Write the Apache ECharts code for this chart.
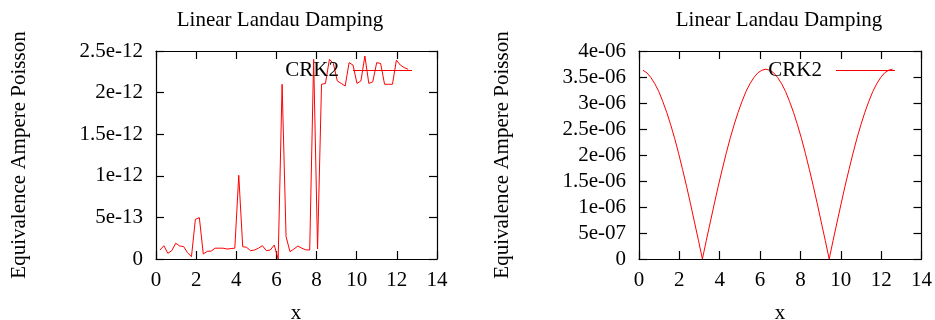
<!DOCTYPE html>
<html>
<head>
<meta charset="utf-8">
<script src="https://cdn.jsdelivr.net/npm/echarts@6/dist/echarts.min.js"></script>
<style>
  html, body { margin: 0; padding: 0; background: #fff; }
  #chart { width: 935px; height: 320px; }
</style>
</head>
<body>
<div id="chart"></div>
<script>
// Sample positions along x (one step of pi/16)
const xValues = [
  0.196, 0.393, 0.589, 0.785, 0.982, 1.178, 1.374, 1.571, 1.767, 1.963,
  2.160, 2.356, 2.553, 2.749, 2.945, 3.142, 3.338, 3.534, 3.731, 3.927,
  4.123, 4.320, 4.516, 4.712, 4.909, 5.105, 5.301, 5.498, 5.694, 5.890,
  6.087, 6.283, 6.480, 6.676, 6.872, 7.069, 7.265, 7.461, 7.658, 7.854,
  8.050, 8.247, 8.443, 8.639, 8.836, 9.032, 9.228, 9.425, 9.621, 9.817,
  10.014, 10.210, 10.407, 10.603, 10.799, 10.996, 11.192, 11.388, 11.585, 11.781,
  11.977, 12.174, 12.370, 12.566
];

// Left panel: CRK2 equivalence error (round-off level)
const crk2Left = [
  1.08e-13, 1.6e-13, 0.68e-13, 1.0e-13, 1.9e-13, 1.56e-13, 1.5e-13, 0.76e-13, 0.28e-13, 4.77e-13,
  4.97e-13, 0.6e-13, 0.92e-13, 0.95e-13, 1.3e-13, 1.3e-13, 1.3e-13, 1.2e-13, 1.25e-13, 1.3e-13,
  1.006e-12, 1.48e-13, 1.4e-13, 1.0e-13, 1.08e-13, 1.3e-13, 1.6e-13, 1.0e-13, 1.08e-13, 1.68e-13,
  0, 2.1e-12, 2.68e-13, 0.88e-13, 1.2e-13, 1.56e-13, 1.3e-13, 1.1e-13, 1.08e-13, 2.4e-12,
  1.2e-13, 2.1e-12, 2.11e-12, 2.4e-12, 2.35e-12, 2.14e-12, 2.11e-12, 2.08e-12, 2.36e-12, 2.33e-12,
  2.11e-12, 2.14e-12, 2.44e-12, 2.11e-12, 2.13e-12, 2.36e-12, 2.35e-12, 2.1e-12, 2.1e-12, 2.1e-12,
  2.39e-12, 2.33e-12, 2.3e-12, 2.28e-12
];

// Right panel: CRK2 equivalence error
const crk2Right = [
  3.63e-6, 3.58e-6, 3.49e-6, 3.37e-6, 3.22e-6, 3.03e-6, 2.82e-6, 2.58e-6, 2.32e-6, 2.03e-6,
  1.72e-6, 1.40e-6, 1.06e-6, 0.71e-6, 0.36e-6, 0,
  0.36e-6, 0.71e-6, 1.06e-6, 1.40e-6, 1.72e-6, 2.03e-6, 2.32e-6, 2.58e-6, 2.82e-6, 3.03e-6,
  3.22e-6, 3.37e-6, 3.49e-6, 3.58e-6, 3.63e-6, 3.65e-6,
  3.63e-6, 3.58e-6, 3.49e-6, 3.37e-6, 3.22e-6, 3.03e-6, 2.82e-6, 2.58e-6, 2.32e-6, 2.03e-6,
  1.72e-6, 1.40e-6, 1.06e-6, 0.71e-6, 0.36e-6, 0,
  0.36e-6, 0.71e-6, 1.06e-6, 1.40e-6, 1.72e-6, 2.03e-6, 2.32e-6, 2.58e-6, 2.82e-6, 3.03e-6,
  3.22e-6, 3.37e-6, 3.49e-6, 3.58e-6, 3.63e-6, 3.65e-6
];

const xTickLabels = ['0', '2', '4', '6', '8', '10', '12', '14'];
const leftTickLabels = ['0', '5e-13', '1e-12', '1.5e-12', '2e-12', '2.5e-12'];
const rightTickLabels = ['0', '5e-07', '1e-06', '1.5e-06', '2e-06', '2.5e-06', '3e-06', '3.5e-06', '4e-06'];

const seriesName = 'CRK2';
const titleText = 'Linear Landau Damping';
const yName = 'Equivalence Ampere Poisson';
const xName = 'x';

const FONT = 'Liberation Serif';
const FS = 21;
const INK = '#000';
const RED = '#ff0000';

function pairs(ys) { return xValues.map((x, i) => [x, ys[i]]); }

function xAxes(gridIndex) {
  const base = {
    gridIndex, type: 'value', min: 0, max: 14, interval: 2,
    axisLine: { show: true, onZero: false, lineStyle: { color: INK, width: 1.2 } },
    axisTick: { show: true, inside: true, length: 8, lineStyle: { color: INK, width: 1.2 } },
    splitLine: { show: false }
  };
  return [
    Object.assign({}, base, {
      position: 'bottom',
      axisLabel: { margin: 11, color: INK, fontFamily: FONT, fontSize: FS,
        formatter: v => xTickLabels[Math.round(v / 2)] }
    }),
    Object.assign({}, base, { position: 'top', axisLabel: { show: false } })
  ];
}

function yAxes(gridIndex, max, interval, labels) {
  const base = {
    gridIndex, type: 'value', min: 0, max, interval,
    axisLine: { show: true, onZero: false, lineStyle: { color: INK, width: 1.2 } },
    axisTick: { show: true, inside: true, length: 8, lineStyle: { color: INK, width: 1.2 } },
    splitLine: { show: false }
  };
  return [
    Object.assign({}, base, {
      position: 'left',
      axisLabel: { margin: 13, color: INK, fontFamily: FONT, fontSize: FS,
        formatter: v => labels[Math.round(v / interval)] }
    }),
    Object.assign({}, base, { position: 'right', axisLabel: { show: false } })
  ];
}

function lineSeries(xi, yi, ys) {
  return {
    name: seriesName, type: 'line', xAxisIndex: xi, yAxisIndex: yi,
    data: pairs(ys), symbol: 'none', showSymbol: false,
    lineStyle: { color: RED, width: 1 }, itemStyle: { color: RED },
    animation: false
  };
}

function legendAt(right) {
  return {
    data: [{ name: seriesName, icon: 'rect' }], right, top: 60, orient: 'horizontal', align: 'right',
    itemWidth: 59, itemHeight: 1, padding: 0, selectedMode: false,
    itemStyle: { color: RED, borderWidth: 0 },
    textStyle: { color: INK, fontFamily: FONT, fontSize: FS, padding: [0, 9, 0, 0] }
  };
}

function label(x, y, text, rotation) {
  return {
    type: 'text', x, y, rotation: rotation || 0,
    style: { text, fill: INK, fontFamily: FONT, fontSize: FS, align: 'center', verticalAlign: 'middle' }
  };
}

const chart = echarts.init(document.getElementById('chart'), null, { renderer: 'canvas' });
chart.setOption({
  animation: false,
  backgroundColor: '#fff',
  textStyle: { fontFamily: FONT, fontSize: FS, color: INK },
  grid: [
    { left: 156, right: 498, top: 51, bottom: 61 },
    { left: 639, right: 13, top: 51, bottom: 61 }
  ],
  xAxis: [...xAxes(0), ...xAxes(1)],
  yAxis: [
    ...yAxes(0, 2.5e-12, 5e-13, leftTickLabels),
    ...yAxes(1, 4e-6, 5e-7, rightTickLabels)
  ],
  legend: [legendAt(523), legendAt(40)],
  series: [lineSeries(0, 0, crk2Left), lineSeries(2, 2, crk2Right)],
  graphic: [
    label(280, 20, titleText),
    label(779, 20, titleText),
    label(19, 155, yName, Math.PI / 2),
    label(502, 155, yName, Math.PI / 2),
    label(296, 313, xName),
    label(780, 313, xName)
  ]
});
</script>
</body>
</html>
